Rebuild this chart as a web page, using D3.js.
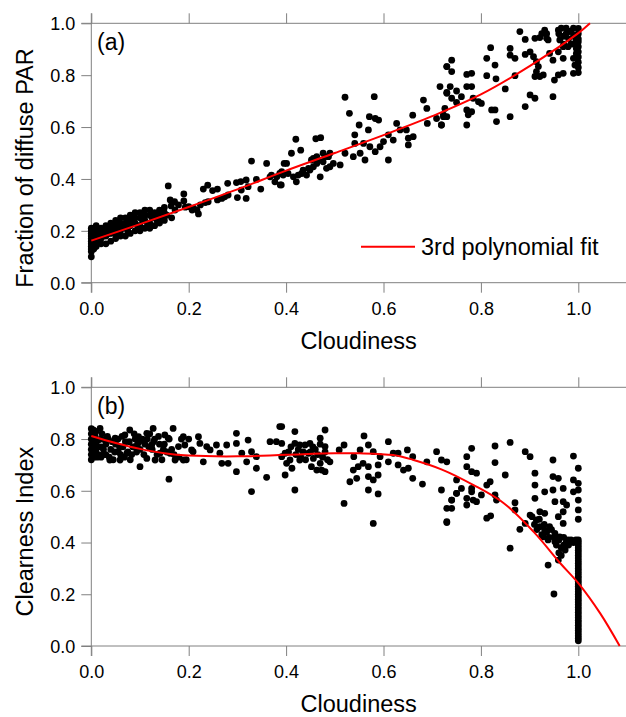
<!DOCTYPE html>
<html>
<head>
<meta charset="utf-8">
<script src="https://cdn.jsdelivr.net/npm/d3@7"></script>
<style>
  body { margin: 0; background: #fff; }
  text { font-family: "Liberation Sans", Arial, sans-serif; fill: #000; }
</style>
</head>
<body>
<svg id="chart" width="626" height="717"></svg>
<script>
// tick values for both panels
const xTicks = [0, 0.2, 0.4, 0.6, 0.8, 1.0];
const yTicks = [0, 0.2, 0.4, 0.6, 0.8, 1.0];

// panel (a): cloudiness vs fraction of diffuse PAR
const diffusePts = [
  [0,.10],[0,.12],[0,.13],[0,.14],[0,.15],[0,.16],[0,.17],[0,.18],[0,.19],[0,.20],[0,.21],
  [.005,.13],[.005,.15],[.005,.17],[.005,.19],[.005,.21],
  [.01,.14],[.01,.16],[.01,.18],[.01,.20],[.01,.22],
  [.02,.15],[.02,.17],[.02,.19],[.02,.21],
  [.03,.15],[.03,.18],[.03,.20],[.03,.22],
  [.04,.16],[.04,.19],[.04,.21],[.04,.23],
  [.05,.17],[.05,.19],[.05,.22],[.05,.24],
  [.06,.18],[.06,.20],[.06,.23],[.06,.25],
  [.07,.18],[.07,.21],[.07,.23],[.07,.25],
  [.08,.19],[.08,.22],[.08,.24],[.08,.26],
  [.09,.20],[.09,.23],[.09,.25],[.09,.27],
  [.10,.20],[.10,.22],[.10,.25],[.10,.27],
  [.11,.21],[.11,.24],[.11,.26],[.11,.28],
  [.12,.21],[.12,.23],[.12,.26],[.12,.28],
  [.13,.22],[.13,.25],[.13,.27],
  [.14,.23],[.14,.26],[.14,.28],
  [.15,.24],[.15,.27],[.15,.29],
  [.015,.16],[.025,.18],[.035,.19],[.045,.20],[.055,.21],[.065,.22],[.075,.20],[.085,.23],
  [.095,.22],[.105,.24],[.115,.23],[.125,.25],[.135,.24],[.145,.25],[.155,.26],[.165,.25],
  [.158,.373],[.162,.319],[.164,.296],[.171,.312],[.172,.28],[.179,.30],[.19,.342],[.19,.315],
  [.193,.291],[.20,.293],[.207,.28],[.21,.287],[.217,.28],[.22,.265],[.224,.30],[.23,.361],
  [.234,.309],[.239,.376],[.24,.312],[.249,.355],[.259,.361],[.259,.319],[.268,.325],[.274,.331],
  [.28,.383],[.281,.338],[.298,.386],[.30,.328],[.307,.39],[.308,.357],[.318,.396],[.318,.325],
  [.322,.37],[.329,.469],[.339,.398],[.348,.361],[.36,.46],[.37,.415],[.387,.421],[.39,.377],[.396,.46],
  [.367,.408],[.377,.389],[.381,.408],[.388,.377],[.391,.428],[.394,.415],[.401,.46],[.404,.421],
  [.411,.499],[.415,.408],[.42,.553],[.421,.389],[.425,.415],[.43,.511],[.432,.421],[.435,.434],
  [.442,.415],[.446,.441],[.449,.434],[.452,.473],[.456,.447],[.456,.479],[.461,.555],[.463,.46],
  [.463,.486],[.466,.473],[.47,.408],[.471,.559],[.476,.466],[.476,.499],[.48,.486],[.483,.441],
  [.487,.486],[.49,.499],[.49,.447],[.497,.46],[.511,.454],[.521,.715],[.521,.499],[.53,.653],
  [.538,.486],[.541,.57],[.541,.537],[.55,.608],[.552,.499],[.559,.537],[.562,.473],[.569,.589],
  [.571,.64],[.572,.524],[.581,.717],[.583,.633],[.583,.505],[.59,.627],[.593,.524],[.60,.544],
  [.61,.57],[.61,.473],[.62,.55],[.627,.614],[.634,.589],[.647,.589],[.651,.531],[.651,.557],
  [.661,.563],[.66,.646],[.682,.704],[.689,.672],[.69,.614],[.709,.633],[.719,.608],[.723,.64],
  [.726,.672],[.73,.73],[.73,.833],[.737,.756],
  [.716,.756],[.719,.608],[.723,.647],[.73,.734],[.73,.64],[.73,.833],[.74,.858],[.74,.814],
  [.74,.711],[.75,.739],[.75,.695],[.76,.717],[.771,.803],[.771,.756],[.771,.666],[.771,.608],
  [.774,.647],[.781,.807],[.781,.756],[.781,.659],[.784,.711],[.795,.698],[.801,.691],[.812,.865],
  [.812,.798],[.82,.906],[.822,.666],[.829,.839],[.829,.666],[.831,.786],[.832,.621],[.85,.747],
  [.86,.903],[.86,.877],[.86,.64],[.87,.865],[.87,.798],[.88,.968],[.891,.938],[.891,.88],
  [.891,.679],[.901,.89],[.901,.724],[.908,.871],[.911,.942],[.911,.795],[.911,.711],[.914,.852],
  [.914,.814],[.918,.833],[.921,.945],[.921,.795],[.925,.96],[.928,.801],[.931,.974],[.935,.942],
  [.935,.96],[.938,.936],[.941,.884],[.948,.858],[.948,.717],[.951,.781],[.959,.974],[.959,.89],
  [.959,.801],[.96,.96],[.962,.936],[.965,.981],[.969,.91],[.969,.865],[.969,.807],[.97,.95],
  [.97,.92],[.975,.981],[.975,.96],[.979,.91],[.98,.94],[.982,.968],[.985,.97],[.985,.92],
  [.99,.981],[.99,.95],[.99,.92],[.99,.865],[.99,.807],[.993,.839],[.995,.93],[.996,.955],
  [.996,.903],[.996,.884],[1,.98],[1,.96],[1,.94],[1,.929],[1,.91],[1,.89],[1,.87],[1,.85],
  [1,.83],[1,.81]
];

// panel (b): cloudiness vs clearness index
const clearPts = [
  [0,.72],[0,.74],[0,.76],[0,.78],[0,.80],[0,.82],[0,.84],[.005,.73],[.005,.77],[.005,.81],
  [.01,.75],[.01,.79],[.01,.83],[.02,.73],[.02,.77],[.02,.80],[.025,.76],[.03,.74],[.03,.78],
  [.035,.80],[.04,.76],[.045,.72],[.05,.78],[.055,.80],[.06,.74],[.065,.77],[.07,.79],[.075,.75],
  [.08,.72],[.085,.77],[.09,.80],[.095,.78],[.10,.76],[.105,.80],[.11,.78],[.115,.80],[.12,.82],
  [.125,.76],[.13,.80],[.135,.74],[.14,.78],[.145,.72],[.15,.78],[.155,.75],[.16,.80],[.165,.76],
  [.17,.74],[.18,.73],[.185,.80],[.195,.72],[.20,.80],
  [.003,.75],[.008,.81],[.012,.73],[.015,.77],[.022,.82],[.027,.74],[.033,.81],[.037,.73],
  [.043,.79],[.048,.75],[.058,.77],[.063,.81],[.068,.73],[.078,.79],[.083,.74],[.088,.82],
  [.093,.75],[.098,.79],[.108,.74],[.118,.77],[.128,.79],[.138,.81],[.148,.76],
  [.004,.835],[.018,.841],[.0145,.796],[.0076,.758],[.018,.738],[.028,.796],[.038,.719],[.049,.803],
  [.059,.719],[.0555,.751],[.069,.816],[.073,.745],[.079,.835],[.09,.771],[.097,.809],[.10,.693],
  [.107,.796],[.114,.822],[.114,.725],[.124,.777],[.127,.841],[.131,.719],[.141,.745],[.151,.816],
  [.158,.803],[.1595,.645],[.1616,.745],[.168,.841],[.172,.719],[.179,.771],[.189,.809],[.189,.719],
  [.192,.777],[.206,.758],[.209,.751],[.22,.809],[.223,.783],[.23,.712],[.237,.771],[.244,.758],
  [.257,.777],[.264,.745],[.268,.706],[.278,.777],[.281,.706],[.298,.822],[.298,.783],[.298,.674],
  [.309,.745],[.319,.712],[.322,.796],[.329,.597],[.329,.751],[.339,.732],[.339,.687],[.36,.652],
  [.367,.79],[.38,.79],[.387,.848],[.391,.732],[.398,.661],
  [.391,.848],[.391,.783],[.398,.745],[.401,.706],[.408,.719],[.412,.687],[.418,.829],[.418,.783],
  [.418,.603],[.428,.777],[.428,.719],[.439,.777],[.446,.745],[.449,.783],[.452,.693],[.456,.725],
  [.463,.68],[.47,.803],[.47,.706],[.473,.68],[.48,.835],[.48,.771],[.48,.674],[.49,.712],
  [.405,.75],[.41,.77],[.42,.74],[.425,.76],[.43,.73],[.435,.75],[.44,.72],[.45,.75],[.455,.77],
  [.46,.76],[.465,.74],[.47,.78],[.475,.73],[.48,.75],[.485,.72],
  [.509,.758],[.519,.777],[.519,.551],[.531,.635],[.538,.68],[.539,.732],[.545,.648],[.548,.693],
  [.552,.758],[.56,.812],[.558,.706],[.569,.777],[.569,.693],[.569,.655],[.569,.603],[.579,.642],
  [.579,.751],[.579,.474],[.589,.70],[.589,.661],[.589,.588],[.593,.732],[.61,.79],[.61,.712],
  [.62,.745],[.63,.745],[.63,.70],[.641,.68],[.649,.758],[.651,.687],[.66,.732],[.66,.648],
  [.68,.626],[.689,.712],[.709,.751],[.719,.719],[.719,.603],[.73,.532],[.73,.477],[.74,.564],
  [.74,.532],[.75,.59],[.75,.642],
  [.73,.712],[.73,.481],[.74,.564],[.75,.59],[.76,.609],[.771,.732],[.771,.693],[.771,.571],
  [.771,.545],[.781,.764],[.781,.674],[.781,.609],[.781,.596],[.784,.564],[.791,.668],[.791,.558],
  [.801,.584],[.812,.622],[.812,.494],[.819,.635],[.82,.503],[.829,.773],[.829,.709],[.829,.584],
  [.832,.564],[.85,.661],[.86,.787],[.86,.378],[.87,.554],[.87,.526],[.88,.451],[.891,.751],
  [.891,.474],[.901,.732],[.901,.506],[.911,.668],[.911,.622],[.911,.571],[.914,.487],[.921,.519],
  [.921,.461],[.931,.513],[.931,.596],[.931,.448],[.928,.422],[.938,.41],[.938,.313],[.941,.461],
  [.948,.719],[.948,.655],[.948,.603],[.952,.558],[.952,.435],[.952,.403],[.95,.201],[.959,.648],
  [.959,.50],[.959,.332],[.962,.422],[.969,.609],[.969,.558],[.969,.519],[.969,.474],[.976,.545],
  [.976,.397],[.973,.371],[.979,.41],[.99,.734],[.99,.642],[.99,.596],[1,.687],[1,.629],[1,.603],
  [1,.564],[1,.526],[1,.49],
  [.905,.50],[.91,.47],[.915,.45],[.92,.49],[.925,.43],[.93,.47],[.935,.44],[.94,.42],[.945,.45],
  [.95,.42],[.955,.39],[.96,.41],[.965,.38],[.97,.42],[.975,.40],[.98,.39],[.985,.41],[.99,.40],
  [.995,.41],[.96,.36],[.965,.35],[.97,.39]
];

// overcast days stacked at cloudiness = 1.0 in panel (b)
const overcastB = [.02,.03,.04,.05,.06,.07,.08,.09,.10,.11,.12,.13,.14,.15,.16,.17,.18,.19,.20,
  .21,.22,.23,.24,.25,.26,.27,.28,.29,.30,.31,.32,.33,.34,.35,.36,.37,.38,.39,.40,.41];

// red fit curves
const fitA = [[0,.162],[.1,.226],[.2,.292],[.3,.36],[.4,.432],[.5,.5],[.6,.569],[.7,.642],
  [.8,.726],[.9,.835],[1.0,.962],[1.024,1.0]];
const fitB = [[0,.812],[.05,.785],[.1,.762],[.15,.745],[.2,.736],[.3,.733],[.4,.739],[.5,.745],
  [.55,.745],[.62,.738],[.66,.72],[.72,.682],[.785,.622],[.847,.552],[.908,.442],[.963,.32],
  [1.0,.243],[1.045,.126],[1.085,0]];

const svg = d3.select("#chart");
const axisColor = "#808080";
const tick = 10;

const x = d3.scaleLinear().domain([0, 1.1]).range([91.3, 627]);

function drawPanel(top, bottom, pts, fit, label, yTitle, extraPts) {
  let y = d3.scaleLinear().domain([0, 1]).range([bottom, top]);
  let g = svg.append("g");

  // frame lines, extended past the corners like the original
  g.append("line").attr("x1", x(0) - tick).attr("x2", 626).attr("y1", y(0)).attr("y2", y(0))
    .attr("stroke", axisColor);
  g.append("line").attr("x1", x(0) - tick).attr("x2", 626).attr("y1", y(1)).attr("y2", y(1))
    .attr("stroke", axisColor);
  g.append("line").attr("x1", x(0)).attr("x2", x(0)).attr("y1", y(1) - tick).attr("y2", y(0) + tick)
    .attr("stroke", axisColor);

  // bottom axis
  let xb = g.append("g").attr("transform", `translate(0,${y(0)})`)
    .call(d3.axisBottom(x).tickValues(xTicks).tickSize(tick).tickSizeOuter(0).tickFormat(d3.format(".1f")));
  // top ticks only
  let xt = g.append("g").attr("transform", `translate(0,${y(1)})`)
    .call(d3.axisTop(x).tickValues(xTicks).tickSize(tick).tickSizeOuter(0).tickFormat(""));
  // left axis
  let yl = g.append("g").attr("transform", `translate(${x(0)},0)`)
    .call(d3.axisLeft(y).tickValues(yTicks).tickSize(tick).tickSizeOuter(0).tickFormat(d3.format(".1f")));

  [xb, xt, yl].forEach(a => {
    a.select(".domain").remove();
    a.selectAll(".tick line").attr("stroke", axisColor);
    a.selectAll(".tick text").style("font-size", "18px").attr("fill", "#000")
      .style("font-family", "'Liberation Sans', Arial, sans-serif");
  });
  xb.selectAll(".tick text").attr("y", 0).attr("dy", "32px");
  yl.selectAll(".tick text").attr("x", -16).attr("dy", "0.35em");

  // scatter points
  let all = pts.concat(extraPts);
  g.append("g").selectAll("circle").data(all).enter().append("circle")
    .attr("cx", d => x(d[0])).attr("cy", d => y(d[1])).attr("r", 3.4).attr("fill", "#000");

  // fit line
  let line = d3.line().x(d => x(d[0])).y(d => y(d[1])).curve(d3.curveCatmullRom);
  g.append("path").datum(fit).attr("d", line).attr("fill", "none")
    .attr("stroke", "#ff0000").attr("stroke-width", 2);

  // panel letter
  g.append("text").attr("x", 97).attr("y", y(1) + 26.5).style("font-size", "23px").text(label);

  // axis titles
  g.append("text").attr("x", (x(0) + 626) / 2).attr("y", y(0) + 66)
    .attr("text-anchor", "middle").style("font-size", "23.5px").text("Cloudiness");
  g.append("text")
    .attr("transform", `translate(33,${(y(0) + y(1)) / 2 + 15}) rotate(-90)`)
    .attr("text-anchor", "middle").style("font-size", "23.5px").text(yTitle);

  return y;
}

drawPanel(23.3, 282.7, diffusePts, fitA, "(a)", "Fraction of diffuse PAR", []);
drawPanel(387.3, 646, clearPts, fitB, "(b)", "Clearness Index", overcastB.map(v => [1, v]));

// legend in panel (a)
svg.append("line").attr("x1", 361).attr("x2", 415).attr("y1", 246.7).attr("y2", 246.7)
  .attr("stroke", "#ff0000").attr("stroke-width", 2);
svg.append("text").attr("x", 421).attr("y", 254.5).style("font-size", "23.5px").text("3rd polynomial fit");
</script>
</body>
</html>
